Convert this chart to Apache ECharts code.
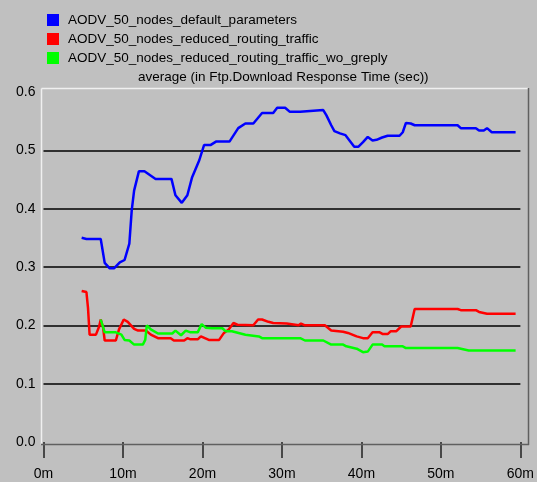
<!DOCTYPE html>
<html>
<head>
<meta charset="utf-8">
<script src="https://cdn.jsdelivr.net/npm/echarts@6/dist/echarts.min.js"></script>
<style>html,body{margin:0;padding:0;background:#c0c0c0;}#c{width:537px;height:482px;}</style>
</head>
<body>
<div id="c"></div>
<script>
const seriesNames = ['AODV_50_nodes_default_parameters','AODV_50_nodes_reduced_routing_traffic','AODV_50_nodes_reduced_routing_traffic_wo_greply'];
const chartTitle = 'average (in Ftp.Download Response Time (sec))';
const xTicks = [0,10,20,30,40,50,60];
const yTicks = [0,0.1,0.2,0.3,0.4,0.5,0.6];

const blueX = [4.8,5.4,7.2,7.7,8.3,8.9,9.6,10.2,10.8,11.1,11.4,12.0,12.7,14.1,16.1,16.6,17.4,18.1,18.7,19.6,20.2,21.0,21.7,23.4,24.5,25.4,26.4,27.5,28.9,29.4,30.4,31.0,32.3,32.5,35.2,35.6,36.2,36.6,37.3,38.0,38.5,39.1,39.6,40.2,40.8,41.4,41.9,42.6,43.3,44.8,45.2,45.6,46.2,46.7,52.1,52.5,54.4,54.8,55.4,55.8,56.4,59.4];
const blueY = [0.350,0.348,0.348,0.307,0.298,0.298,0.308,0.312,0.340,0.397,0.431,0.464,0.464,0.451,0.451,0.423,0.410,0.423,0.454,0.483,0.509,0.509,0.515,0.515,0.538,0.546,0.546,0.564,0.564,0.573,0.573,0.566,0.566,0.569,0.569,0.560,0.543,0.533,0.529,0.526,0.517,0.506,0.506,0.514,0.523,0.517,0.518,0.522,0.525,0.525,0.531,0.547,0.546,0.543,0.543,0.538,0.538,0.534,0.534,0.538,0.531,0.531];

const redX = [4.8,5.4,5.6,5.8,6.6,7.0,7.2,7.5,7.7,9.1,9.5,10.1,10.6,11.4,11.9,12.9,13.5,14.4,16.0,16.4,17.7,18.1,18.5,19.4,19.8,20.3,20.8,22.1,22.7,23.3,23.9,24.4,26.4,27.0,27.5,28.3,28.9,30.6,30.8,32.1,32.4,32.9,35.4,36.2,37.7,38.3,39.4,40.2,40.8,41.4,42.3,42.7,43.3,43.7,44.4,45.0,46.2,46.7,52.1,52.5,54.4,54.8,55.8,59.4];
const redY = [0.259,0.257,0.230,0.184,0.184,0.198,0.210,0.196,0.174,0.174,0.193,0.210,0.206,0.194,0.191,0.191,0.184,0.178,0.178,0.174,0.174,0.178,0.176,0.176,0.181,0.178,0.175,0.175,0.187,0.193,0.204,0.201,0.200,0.210,0.210,0.206,0.204,0.203,0.200,0.200,0.203,0.200,0.200,0.191,0.189,0.187,0.181,0.178,0.178,0.188,0.188,0.185,0.185,0.190,0.190,0.198,0.198,0.228,0.228,0.226,0.226,0.223,0.220,0.220];

const greenX = [7.2,7.7,9.1,9.8,10.2,10.8,11.4,12.5,12.8,13.0,13.5,14.4,16.2,16.6,17.3,17.9,18.5,19.4,19.9,20.4,21.2,22.5,22.9,23.7,25.4,27.1,27.5,32.3,32.9,35.2,36.2,37.7,38.1,39.4,40.2,40.8,41.4,42.6,42.9,45.2,45.6,52.1,53.5,59.4];
const greenY = [0.210,0.188,0.188,0.184,0.175,0.174,0.167,0.167,0.175,0.200,0.193,0.186,0.186,0.191,0.183,0.191,0.188,0.188,0.202,0.196,0.195,0.195,0.190,0.190,0.184,0.181,0.178,0.178,0.174,0.174,0.167,0.167,0.164,0.160,0.154,0.155,0.167,0.167,0.164,0.164,0.161,0.161,0.157,0.157];

const colors = ['#0000ff','#ff0000','#00ff00'];
const pair = (xs, ys) => xs.map((x, i) => [x, ys[i]]);
const allData = [pair(blueX, blueY), pair(redX, redY), pair(greenX, greenY)];
const FONT = '"Liberation Sans", Arial, sans-serif';

const chart = echarts.init(document.getElementById('c'), null, {renderer: 'canvas'});
chart.setOption({
  backgroundColor: '#c0c0c0',
  animation: false,
  title: {
    text: chartTitle, left: 133, top: 65,
    textStyle: {fontFamily: FONT, fontSize: 13.5, fontWeight: 'normal', color: '#000'}
  },
  legend: {
    orient: 'vertical', left: 42, top: 8, itemWidth: 12, itemHeight: 12, itemGap: 5,
    icon: 'rect', data: seriesNames,
    textStyle: {fontFamily: FONT, fontSize: 13.5, color: '#000', padding: [0,0,0,4]}
  },
  graphic: [
    {type: 'line', shape: {x1: 41.5, y1: 88.5, x2: 528, y2: 88.5}, style: {stroke: '#f0f0f0', lineWidth: 1.5}, z: 10},
    {type: 'line', shape: {x1: 41.5, y1: 88.5, x2: 41.5, y2: 445}, style: {stroke: '#f0f0f0', lineWidth: 1.5}, z: 10},
    {type: 'line', shape: {x1: 528.5, y1: 88, x2: 528.5, y2: 445}, style: {stroke: '#606060', lineWidth: 1.5}, z: 10},
    {type: 'line', shape: {x1: 41, y1: 444.5, x2: 529, y2: 444.5}, style: {stroke: '#606060', lineWidth: 1.5}, z: 10}
  ],
  grid: {left: 43.5, right: 12, top: 92, bottom: 40},
  xAxis: {
    type: 'value', min: 0, max: 60, interval: 10,
    axisLine: {show: false},
    axisTick: {show: true, length: 16, lineStyle: {color: '#202020', width: 1.5}},
    axisLabel: {margin: 25, fontFamily: FONT, fontSize: 14, color: '#000', formatter: v => v + 'm'},
    splitLine: {show: false}
  },
  yAxis: {
    type: 'value', min: 0, max: 0.6, interval: 0.1,
    axisLine: {show: false}, axisTick: {show: false},
    axisLabel: {margin: 8, fontFamily: FONT, fontSize: 14, color: '#000', formatter: v => v.toFixed(1)},
    splitLine: {show: true, showMinLine: false, showMaxLine: false, lineStyle: {color: '#303030', width: 2}}
  },
  series: allData.map((d, i) => ({
    name: seriesNames[i], type: 'line', data: d, showSymbol: false, symbol: 'none',
    lineStyle: {color: colors[i], width: 2.5}, itemStyle: {color: colors[i]}, z: 5
  }))
});
</script>
</body>
</html>
